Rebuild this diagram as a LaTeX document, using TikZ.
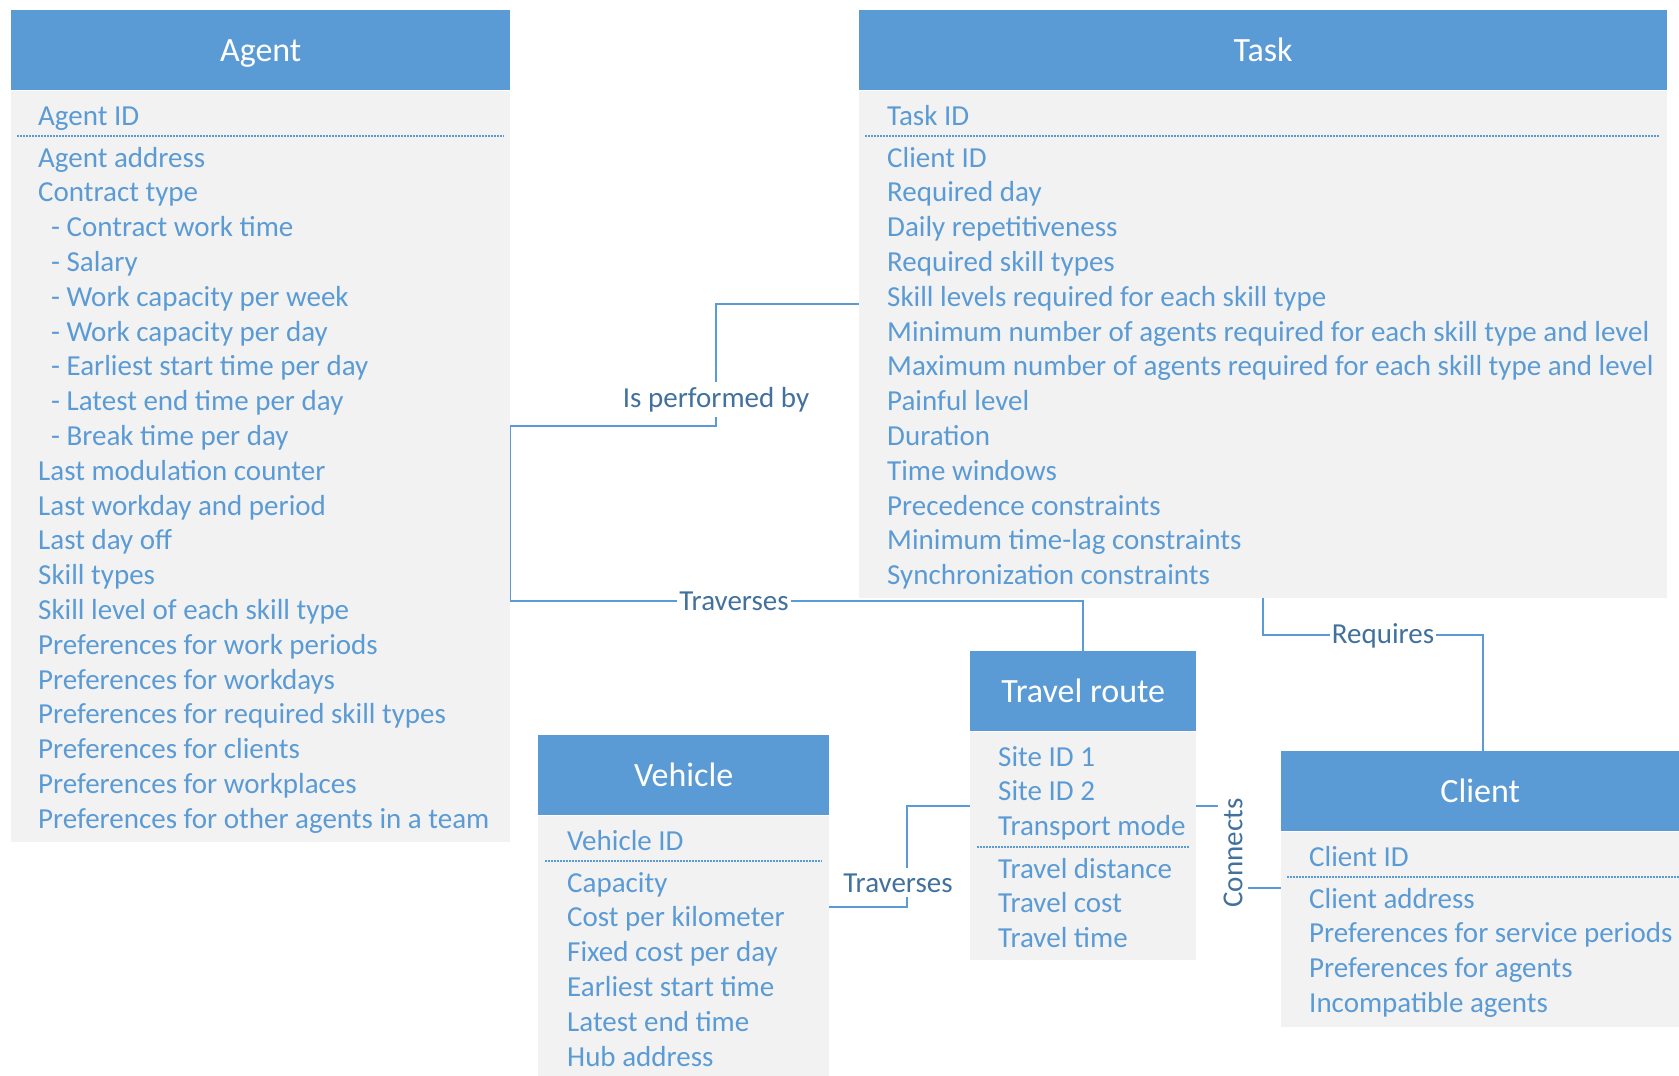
\documentclass[tikz,border=0pt]{standalone}
\usepackage{fontspec}
\setmainfont{Carlito}
\definecolor{hblue}{HTML}{5B9BD5}
\definecolor{bgray}{HTML}{F2F2F2}
\definecolor{ldblue}{HTML}{41719C}

\begin{document}
\begin{tikzpicture}[x=1pt, y=-1pt,
  head/.style = {fill=hblue, text=white, anchor=north west, inner sep=0pt,
    minimum height=80pt, text height=22pt, text depth=0pt,
    font=\fontsize{34}{40}\selectfont},
  body/.style = {fill=bgray, anchor=north west, inner sep=0pt},
  attr/.style = {text=hblue, anchor=base west, inner sep=0pt,
    font=\fontsize{29}{35}\selectfont},
  sep/.style = {draw=hblue, line width=1.5pt, dash pattern=on 1.5pt off 1.5pt},
  link/.style = {draw=hblue, line width=1.5pt},
  rel/.style = {text=ldblue, fill=white, inner xsep=2pt, inner ysep=5pt,
    font=\fontsize{29}{35}\selectfont}]
  \useasboundingbox (0,0) rectangle (1679,1076);

  \node[head, minimum width=499pt] (agent) at (11,10) {Agent};
  \node[body, minimum width=499pt, minimum height=751pt] (agentbody) at (agent.south west) {};
  \node[attr] (agentid) at (38,125) {Agent ID};
  \draw[sep] (17,136) -- (504,136);
  \foreach \x/\t [count=\i from 0] in {38/Agent address, 38/Contract type,
      51/- Contract work time, 51/- Salary, 51/- Work capacity per week,
      51/- Work capacity per day, 51/- Earliest start time per day,
      51/- Latest end time per day, 51/- Break time per day,
      38/Last modulation counter, 38/Last workday and period, 38/Last day off,
      38/Skill types, 38/Skill level of each skill type,
      38/Preferences for work periods, 38/Preferences for workdays,
      38/Preferences for required skill types, 38/Preferences for clients,
      38/Preferences for workplaces, 38/Preferences for other agents in a team}
    \node[attr] (agent-\i) at (\x,167+34.8*\i) {\t};

  \node[head, minimum width=808pt] (task) at (859,10) {Task};
  \node[body, minimum width=808pt, minimum height=507pt] (taskbody) at (task.south west) {};
  \node[attr] (taskid) at (887,125) {Task ID};
  \draw[sep] (865,136) -- (1660,136);
  \foreach \t [count=\i from 0] in {Client ID, Required day, Daily repetitiveness,
      Required skill types, Skill levels required for each skill type,
      Minimum number of agents required for each skill type and level,
      Maximum number of agents required for each skill type and level,
      Painful level, Duration, Time windows, Precedence constraints,
      Minimum time-lag constraints, Synchronization constraints}
    \node[attr] (task-\i) at (887,167+34.8*\i) {\t};

  \node[head, minimum width=226pt] (travel) at (970,651) {Travel route};
  \node[body, minimum width=226pt, minimum height=228pt] (travelbody) at (travel.south west) {};
  \foreach \t [count=\i from 0] in {Site ID 1, Site ID 2, Transport mode}
    \node[attr] (travelkey-\i) at (998,766+34.8*\i) {\t};
  \draw[sep] (977,847) -- (1189,847);
  \foreach \t [count=\i from 0] in {Travel distance, Travel cost, Travel time}
    \node[attr] (travel-\i) at (998,878+34.8*\i) {\t};

  \node[head, minimum width=291pt] (vehicle) at (538,735) {Vehicle};
  \node[body, minimum width=291pt, minimum height=261pt] (vehiclebody) at (vehicle.south west) {};
  \node[attr] (vehicleid) at (567,850) {Vehicle ID};
  \draw[sep] (545,861) -- (822,861);
  \foreach \t [count=\i from 0] in {Capacity, Cost per kilometer, Fixed cost per day,
      Earliest start time, Latest end time, Hub address}
    \node[attr] (vehicle-\i) at (567,892+34.8*\i) {\t};

  \node[head, minimum width=398pt] (client) at (1281,751) {Client};
  \node[body, minimum width=398pt, minimum height=195pt] (clientbody) at (client.south west) {};
  \node[attr] (clientid) at (1309,866) {Client ID};
  \draw[sep] (1287,877) -- (1679,877);
  \foreach \t [count=\i from 0] in {Client address, Preferences for service periods,
      Preferences for agents, Incompatible agents}
    \node[attr] (client-\i) at (1309,908+34.8*\i) {\t};

  \draw[link] (taskbody.west |- 0,304) -| (716,426) -- (agentbody.east |- 0,426);
  \draw[link] (agentbody.east |- 0,426) |- (travel.north |- 0,601) -- (travel.north);
  \draw[link] (taskbody.south) -- ++(0,37) -| ([xshift=3pt]client.north);
  \draw[link] (vehiclebody.east |- 0,907) -| (907,806) -- (travelbody.west |- 0,806);
  \draw[link] (travelbody.east |- 0,806) -| (1233,888) -- (clientbody.west |- 0,888);

  \node[rel, anchor=base] (performed) at (716,407) {Is performed by};
  \node[rel, anchor=base] (traverses) at (734,610) {Traverses};
  \node[rel, anchor=base] (requires) at (1383,643) {Requires};
  \node[rel, anchor=base] (drives) at (898,892) {Traverses};
  \node[rel, rotate=90] (connects) at (1233,853) {Connects};
\end{tikzpicture}
\end{document}
